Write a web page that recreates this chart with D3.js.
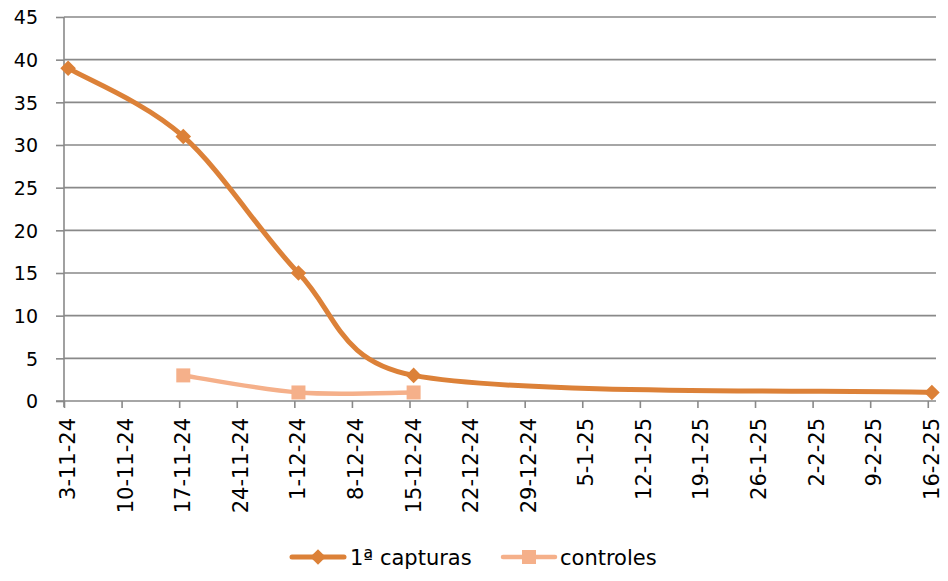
<!DOCTYPE html>
<html><head><meta charset="utf-8">
<script src="https://cdn.jsdelivr.net/npm/d3@7"></script>
<style>body{margin:0;background:#fff}svg text{font-family:"DejaVu Sans",sans-serif;fill:#000}</style>
</head><body>
<svg id="c" width="948" height="581"></svg>
<script>
const tickLabels = ["3-11-24","10-11-24","17-11-24","24-11-24","1-12-24","8-12-24","15-12-24","22-12-24","29-12-24","5-1-25","12-1-25","19-1-25","26-1-25","2-2-25","9-2-25","16-2-25"];
const capturasDates = ["3-11-24","17-11-24","1-12-24","15-12-24","16-2-25"];
const capturasValues = [39,31,15,3,1];
const controlesDates = ["17-11-24","1-12-24","15-12-24"];
const controlesValues = [3,1,1];
const yTicks = [0,5,10,15,20,25,30,35,40,45];
const seriesNames = ["1ª capturas","controles"];

const parse = d3.timeParse("%d-%m-%y");
const svg = d3.select("#c");
const x0 = 64, xEnd = 936, yTop = 17, yBot = 401;
const firstDay = parse(tickLabels[0]);
const lastDay = parse(tickLabels[tickLabels.length-1]);
// date axis: each day is a slot; plot area runs to the end of the last day
const x = d3.scaleTime().domain([firstDay, d3.timeDay.offset(lastDay, 1)]).range([x0, xEnd]);
const xPt = d => x(d3.timeHour.offset(d, 12)); // points sit in the middle of their day
const y = d3.scaleLinear().domain([0,45]).range([yBot, yTop]);
const gridC = "#898989";

// Excel-like smooth curve (Bezier, tension 1/6, control arm capped at half segment)
function excelCurve(context) {
  let pts = [];
  return {
    areaStart(){}, areaEnd(){},
    lineStart(){ pts = []; },
    point(px, py){ pts.push([+px, +py]); },
    lineEnd(){
      const n = pts.length;
      if (!n) return;
      context.moveTo(pts[0][0], pts[0][1]);
      const dist = (a,b) => Math.hypot(b[0]-a[0], b[1]-a[1]);
      for (let i = 0; i < n - 1; i++) {
        const p0 = pts[Math.max(i-1,0)], p1 = pts[i], p2 = pts[i+1], p3 = pts[Math.min(i+2,n-1)];
        const d12 = dist(p1,p2), d02 = dist(p0,p2), d13 = dist(p1,p3);
        let f0 = 1/6, f1 = 1/6;
        if (d02/6 >= d12/2 && d02 > 0) f0 = d12/(2*d02);
        if (d13/6 >= d12/2 && d13 > 0) f1 = d12/(2*d13);
        context.bezierCurveTo(
          p1[0] + f0*(p2[0]-p0[0]), p1[1] + f0*(p2[1]-p0[1]),
          p2[0] - f1*(p3[0]-p1[0]), p2[1] - f1*(p3[1]-p1[1]),
          p2[0], p2[1]);
      }
    }
  };
}

// gridlines
svg.append("g").selectAll("line").data(yTicks.filter(d=>d>0)).join("line")
  .attr("x1", x0).attr("x2", xEnd).attr("y1", d=>y(d)).attr("y2", d=>y(d))
  .attr("stroke", gridC).attr("stroke-width", 1.6);

// y axis
const ya = svg.append("g").attr("transform", `translate(${x0},0)`)
  .call(d3.axisLeft(y).tickValues(yTicks).tickSize(8).tickPadding(5));
ya.select(".domain").remove();
ya.append("line").attr("x1",0).attr("x2",0).attr("y1",yTop).attr("y2",yBot+6).attr("stroke",gridC).attr("stroke-width",1.6);
ya.selectAll(".tick line").attr("stroke",gridC).attr("stroke-width",1.6);
ya.selectAll(".tick text").attr("font-size", 19).attr("fill","#000").attr("dy","0.36em").attr("x",-26);

// x axis
const xa = svg.append("g").attr("transform", `translate(0,${yBot})`)
  .call(d3.axisBottom(x).tickValues(tickLabels.map(parse)).tickFormat(d3.timeFormat("%-d-%-m-%y")).tickSize(7));
xa.select(".domain").remove();
xa.append("line").attr("x1",x0-8).attr("x2",xEnd).attr("y1",0).attr("y2",0).attr("stroke",gridC).attr("stroke-width",1.6);
xa.selectAll(".tick line").attr("stroke",gridC).attr("stroke-width",1.6);
xa.selectAll(".tick text").attr("font-size", 21).attr("fill","#000")
  .attr("text-anchor","end").attr("x",-17).attr("y",0).attr("dy","0.36em").attr("dx",0)
  .attr("transform", "rotate(-90) translate(0,3)");

const c1 = "#DC8138", c2 = "#F5B08A";
const line = d3.line().x(d=>xPt(d[0])).y(d=>y(d[1])).curve(excelCurve);
const cap = capturasDates.map((d,i)=>[parse(d), capturasValues[i]]);
const con = controlesDates.map((d,i)=>[parse(d), controlesValues[i]]);

svg.append("path").datum(con).attr("d", line).attr("fill","none").attr("stroke",c2).attr("stroke-width",4.5).attr("stroke-linecap","round");
svg.append("path").datum(cap).attr("d", line).attr("fill","none").attr("stroke",c1).attr("stroke-width",5).attr("stroke-linecap","round");

svg.append("g").selectAll("rect").data(con).join("rect")
  .attr("x", d=>xPt(d[0])-7).attr("y", d=>y(d[1])-7).attr("width",14).attr("height",14).attr("fill",c2);
const diamond = d3.symbol().type(d3.symbolDiamond2).size(155);
svg.append("g").selectAll("path").data(cap).join("path")
  .attr("transform", d=>`translate(${xPt(d[0])},${y(d[1])})`).attr("d", diamond).attr("fill",c1);

// legend
const ly = 557;
const lg = svg.append("g");
lg.append("line").attr("x1",292).attr("x2",344).attr("y1",ly).attr("y2",ly).attr("stroke",c1).attr("stroke-width",5).attr("stroke-linecap","round");
lg.append("path").attr("transform",`translate(318,${ly})`).attr("d",diamond).attr("fill",c1);
lg.append("text").attr("x",350).attr("y",ly).attr("dy","0.36em").attr("font-size",21).text(seriesNames[0]);
lg.append("line").attr("x1",503).attr("x2",555).attr("y1",ly).attr("y2",ly).attr("stroke",c2).attr("stroke-width",4.5).attr("stroke-linecap","round");
lg.append("rect").attr("x",529-7).attr("y",ly-7).attr("width",14).attr("height",14).attr("fill",c2);
lg.append("text").attr("x",560).attr("y",ly).attr("dy","0.36em").attr("font-size",21).text(seriesNames[1]);
</script>
</body></html>
